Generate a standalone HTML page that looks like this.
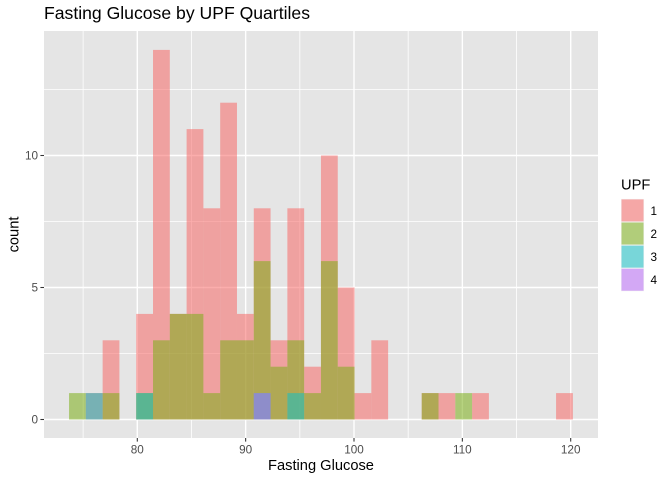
<!DOCTYPE html>
<html lang="en">
<head>
<meta charset="utf-8">
<title>Fasting Glucose by UPF Quartiles</title>
<style>
html,body{margin:0;padding:0;background:#fff;}
svg{display:block;font-family:"Liberation Sans",Arial,sans-serif;}
</style>
</head>
<body>
<svg id="chart" xmlns="http://www.w3.org/2000/svg" width="672" height="480" viewBox="0 0 672 480">
  <rect x="0" y="0" width="672" height="480" fill="#ffffff"/>
  <rect x="44" y="31" width="554" height="407" fill="#e5e5e5"/>
  <g id="grid"></g>
  <g id="bars"></g>
  <g id="axes"></g>
  <text x="44" y="19" font-size="17.6" textLength="266" lengthAdjust="spacingAndGlyphs" fill="#000000">Fasting Glucose by UPF Quartiles</text>
  <text x="321" y="470" font-size="14.67" text-anchor="middle" fill="#000000">Fasting Glucose</text>
  <text transform="translate(18.5,234.5) rotate(-90)" font-size="14.67" text-anchor="middle" fill="#000000">count</text>
  <g id="legend">
    <text x="621" y="189.5" font-size="14.67" fill="#000000">UPF</text>
  </g>
</svg>
<script>
var binStart = 73.7;
var binWidth = 1.55;
var upf1 = [0,1,3,0,4,14,4,11,8,12,4,8,3,8,2,10,5,1,3,0,0,1,1,0,1,0,0,0,0,1];
var upf2 = [1,0,1,0,1,3,4,4,1,3,3,6,2,3,1,6,2,0,0,0,0,1,0,1,0,0,0,0,0,0];
var upf3 = [0,1,0,0,1,0,0,0,0,0,0,1,0,1,0,0,0,0,0,0,0,0,0,0,0,0,0,0,0,0];
var upf4 = [0,0,0,0,0,0,0,0,0,0,0,1,0,0,0,0,0,0,0,0,0,0,0,0,0,0,0,0,0,0];
var seriesLabels = ['1','2','3','4'];
var xTicks = [80,90,100,110,120];
var xMinorTicks = [75,85,95,105,115];
var yTicks = [0,5,10];
var yMinorTicks = [2.5,7.5,12.5];

var seriesValues = [upf1, upf2, upf3, upf4];
var seriesColors = ['#F86A68','#7CAE18','#14BFC4','#B96BF7'];
var NS = 'http://www.w3.org/2000/svg';
var panelLeft = 44, panelRight = 598, panelTop = 31, panelBottom = 438;

function xScale(v){ return 137.3 + (v - 80) * 10.835; }
function yScale(v){ return 419.5 - v * 26.4; }

function make(tag, parent, attrs){
  var el = document.createElementNS(NS, tag);
  for (var k in attrs){ el.setAttribute(k, attrs[k]); }
  parent.appendChild(el);
  return el;
}

var grid = document.getElementById('grid');
xMinorTicks.forEach(function(v){
  var l = make('line', grid, {x1:xScale(v), x2:xScale(v), y1:panelTop, y2:panelBottom, stroke:'#ffffff', 'stroke-width':0.8});
  
  
});
yMinorTicks.forEach(function(v){
  var l = make('line', grid, {x1:panelLeft, x2:panelRight, y1:yScale(v), y2:yScale(v), stroke:'#ffffff', 'stroke-width':0.8});
  
  
});
xTicks.forEach(function(v){
  var l = make('line', grid, {x1:xScale(v), x2:xScale(v), y1:panelTop, y2:panelBottom, stroke:'#ffffff', 'stroke-width':1.4});
  
  
});
yTicks.forEach(function(v){
  var l = make('line', grid, {x1:panelLeft, x2:panelRight, y1:yScale(v), y2:yScale(v), stroke:'#ffffff', 'stroke-width':1.4});
  
  
});

var barsGroup = document.getElementById('bars');
seriesValues.forEach(function(vals, s){
  vals.forEach(function(c, i){
    if (c <= 0) { return; }
    var x0 = xScale(binStart + i * binWidth);
    var x1 = xScale(binStart + (i + 1) * binWidth);
    var r = make('rect', barsGroup, {x:x0, y:yScale(c), width:x1 - x0, height:yScale(0) - yScale(c), fill:seriesColors[s], 'fill-opacity':0.55});
    
    
  });
});

var axes = document.getElementById('axes');
xTicks.forEach(function(v){
  var t = make('line', axes, {x1:xScale(v), x2:xScale(v), y1:panelBottom, y2:panelBottom + 3.6, stroke:'#333333', 'stroke-width':1.07});
  
  
  var lb = make('text', axes, {x:xScale(v), y:453.5, 'font-size':11.73, 'text-anchor':'middle', fill:'#4d4d4d'});
  
  
  lb.textContent = v;
});
yTicks.forEach(function(v){
  var t = make('line', axes, {x1:panelLeft - 3.6, x2:panelLeft, y1:yScale(v), y2:yScale(v), stroke:'#333333', 'stroke-width':1.07});
  
  
  var lb = make('text', axes, {x:panelLeft - 6, y:yScale(v) + 4.2, 'font-size':11.73, 'text-anchor':'end', fill:'#4d4d4d'});
  
  
  lb.textContent = v;
});

var legend = document.getElementById('legend');
seriesLabels.forEach(function(label, s){
  var top = 198.9 + s * 23.1;
  var bg = make('rect', legend, {x:621, y:top, width:23.04, height:23.04, fill:'#f2f2f2'});
  
  
  var sw = make('rect', legend, {x:621.5, y:top + 0.5, width:22.04, height:22.04, fill:seriesColors[s], 'fill-opacity':0.55});
  
  
  var lb = make('text', legend, {x:650.5, y:top + 15.9, 'font-size':11.73, fill:'#000000'});
  
  
  lb.textContent = label;
});
</script>
</body>
</html>
